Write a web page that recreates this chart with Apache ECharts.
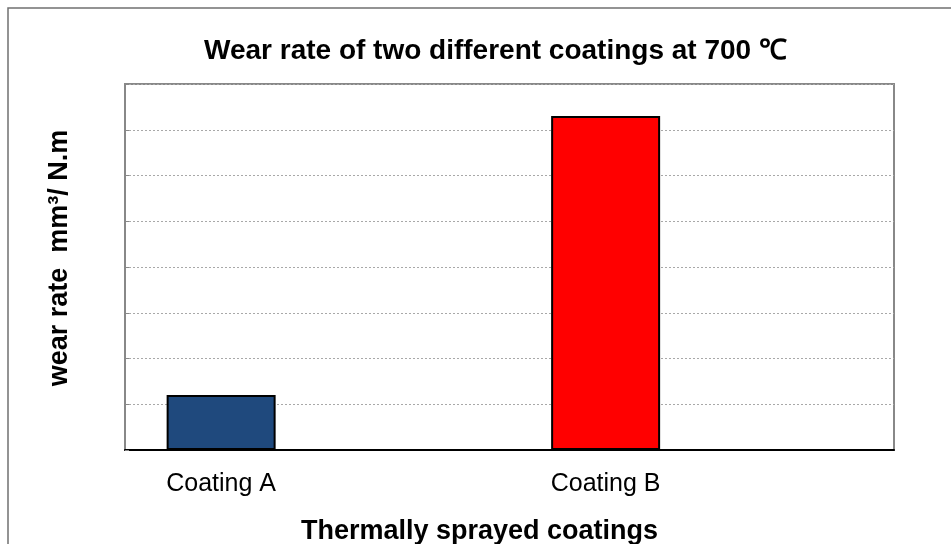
<!DOCTYPE html>
<html>
<head>
<meta charset="utf-8">
<script src="https://cdn.jsdelivr.net/npm/echarts@6/dist/echarts.min.js"></script>
<style>
  html, body { margin: 0; padding: 0; background: #fff; }
  #chart { width: 951px; height: 544px; }
</style>
</head>
<body>
<div id="chart"></div>
<script>
const categories = ['Coating A', 'Coating B'];
const wearRate = [1.2, 7.3];
const barColors = ['#1f497d', '#ff0000'];
const yTicks = [0, 1, 2, 3, 4, 5, 6, 7, 8];

const FONT = 'Arial, "Liberation Sans", sans-serif';
const chart = echarts.init(document.getElementById('chart'), null, { renderer: 'canvas' });

const seriesData = categories.map((c, i) => ({
  value: [i, wearRate[i]],
  itemStyle: { color: barColors[i] }
}));

chart.setOption({
  backgroundColor: '#ffffff',
  animation: false,
  graphic: [{
    type: 'rect',
    shape: { x: 8, y: 8, width: 1000, height: 600 },
    style: { fill: 'none', stroke: '#707070', lineWidth: 1.5 },
    silent: true, z: -10
  }],
  title: {
    text: 'Wear rate of two different coatings at 700 ℃',
    left: 199,
    top: 32,
    textStyle: { fontFamily: FONT, fontSize: 28, fontWeight: 'bold', color: '#000' }
  },
  grid: {
    left: 125, top: 84, right: 57, bottom: 94,
    outerBoundsMode: 'none',
    containLabel: false,
    show: true, borderColor: '#888888', borderWidth: 2, backgroundColor: '#fff'
  },
  xAxis: {
    type: 'value',
    min: -0.25, max: 1.75, interval: 0.25,
    name: 'Thermally sprayed coatings',
    nameLocation: 'middle',
    nameGap: 68,
    nameTextStyle: { fontFamily: FONT, fontSize: 27, fontWeight: 'bold', color: '#000', padding: [0, 60, 0, 0] },
    axisLine: { show: true, onZero: false, lineStyle: { color: '#000', width: 2 } },
    axisTick: { show: false },
    splitLine: { show: false },
    axisLabel: {
      fontFamily: FONT, fontSize: 25, color: '#000', margin: 22,
      formatter: v => (Math.abs(v - Math.round(v)) < 1e-9 && categories[Math.round(v)] !== undefined) ? categories[Math.round(v)] : ''
    }
  },
  yAxis: {
    type: 'value',
    min: yTicks[0], max: yTicks[yTicks.length - 1], interval: 1,
    name: 'wear rate  mm³/ N.m',
    nameLocation: 'middle',
    nameGap: 52,
    nameTextStyle: { fontFamily: FONT, fontSize: 27, fontWeight: 'bold', color: '#000', padding: [0, 0, 0, 18] },
    axisLine: { show: true, onZero: false, lineStyle: { color: '#888888', width: 2 } },
    axisTick: { show: true, inside: true, length: 4, lineStyle: { color: '#888888' } },
    axisLabel: { show: false },
    splitLine: { show: true, lineStyle: { color: '#a8a8a8', width: 1, type: [2, 2] } }
  },
  series: [{
    type: 'bar',
    data: seriesData,
    barWidth: 109,
    itemStyle: { borderColor: '#000', borderWidth: 2 }
  }]
});
</script>
</body>
</html>
